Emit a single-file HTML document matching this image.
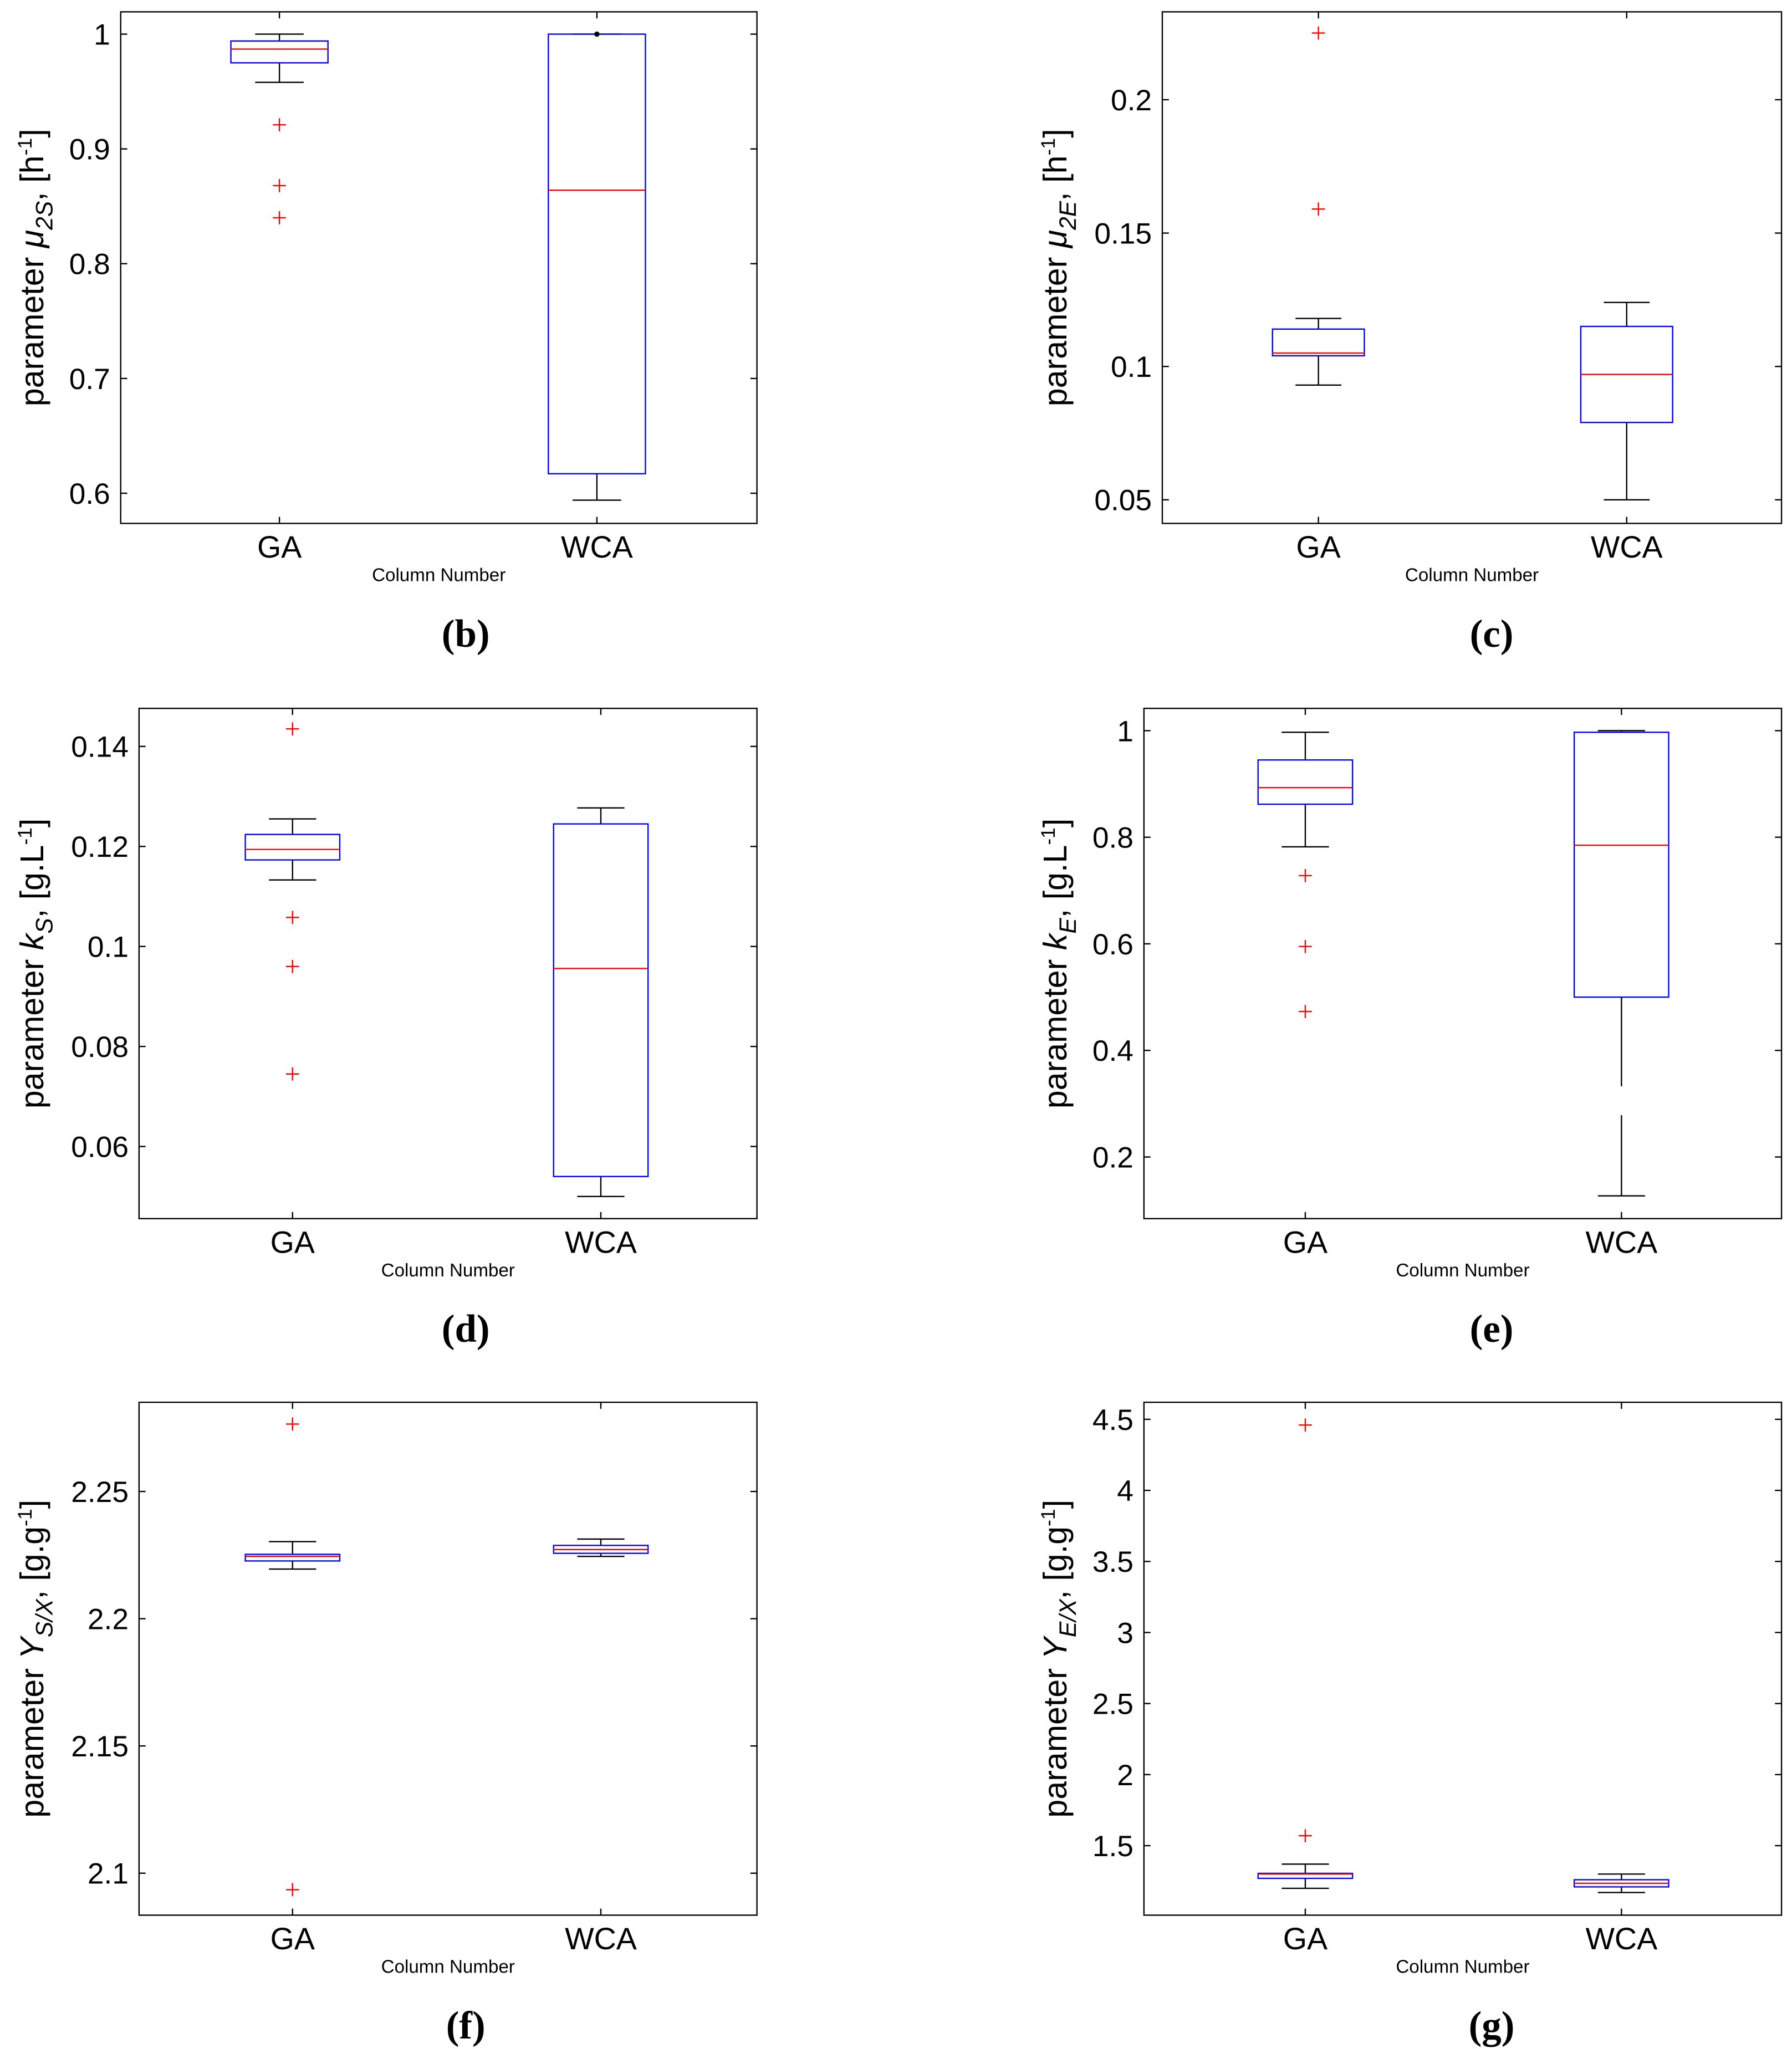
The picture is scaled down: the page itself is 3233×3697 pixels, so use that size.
<!DOCTYPE html>
<html><head><meta charset="utf-8"><style>
html,body{margin:0;padding:0;background:#fff}
svg{display:block}
text{font-family:"Liberation Sans",sans-serif}
.cap{font-family:"Liberation Serif",serif;font-weight:bold;font-size:30px}
</style></head><body>
<svg id="fig" width="3233" height="3697" viewBox="0 0 1366 1562" xmlns="http://www.w3.org/2000/svg"></svg>
<script>
const NS="http://www.w3.org/2000/svg";
const categories=["GA","WCA"];
// panel b
const bTicks=[0.6,0.7,0.8,0.9,1];
const bStats=[[0.958,0.975,0.987,0.994,1.0],[0.594,0.617,0.864,1.0,1.0]];
const bOut=[[0.921,0.868,0.84],[]];
// panel c
const cTicks=[0.05,0.1,0.15,0.2];
const cStats=[[0.093,0.104,0.105,0.114,0.118],[0.05,0.079,0.097,0.115,0.124]];
const cOut=[[0.225,0.159],[]];
// panel d
const dTicks=[0.06,0.08,0.1,0.12,0.14];
const dStats=[[0.1133,0.1173,0.1194,0.1224,0.1255],[0.05,0.054,0.0956,0.1245,0.1277]];
const dOut=[[0.1435,0.1058,0.096,0.0745],[]];
// panel e
const eTicks=[0.2,0.4,0.6,0.8,1];
const eStats=[[0.782,0.862,0.893,0.945,0.997],[0.127,0.5,0.785,0.997,1.0]];
const eOut=[[0.728,0.595,0.473],[]];
// panel f
const fTicks=[2.1,2.15,2.2,2.25];
const fStats=[[2.2195,2.2227,2.2245,2.2253,2.2303],[2.2245,2.2257,2.2272,2.2288,2.2313]];
const fOut=[[2.2765,2.0935],[]];
// panel g
const gTicks=[1.5,2,2.5,3,3.5,4,4.5];
const gTickLabels=["1.5","2","2.5","3","3.5","4","4.5"];
const gStats=[[1.2,1.27,1.3,1.305,1.37],[1.17,1.21,1.235,1.26,1.3]];
const gOut=[[4.46,1.57],[]];

const svg=document.getElementById('fig');
function mk(tag,attrs,parent){const e=document.createElementNS(NS,tag);for(const k in attrs)e.setAttribute(k,attrs[k]);(parent||svg).appendChild(e);return e;}

function panel(cfg){
  const g=mk('g',{});
  
  
  const {x0,x1,y0,y1}=cfg;
  const ys=v=>cfg.ry0+(v-cfg.v0)*(cfg.ry1-cfg.ry0)/(cfg.v1-cfg.v0);
  const xs=i=>cfg.cx[i];
  const frame=mk('rect',{x:x0,y:y0,width:x1-x0,height:y1-y0,fill:'none',stroke:'#000','stroke-width':1},g);
  
  
  cfg.ticks.forEach((t,i)=>{
    const y=ys(t);
    mk('line',{x1:x0,x2:x0+5,y1:y,y2:y,stroke:'#000'},g);
    mk('line',{x1:x1,x2:x1-5,y1:y,y2:y,stroke:'#000'},g);
    const tx=mk('text',{x:x0-8,y:y+8,'text-anchor':'end','font-size':22.5},g);
    tx.textContent=cfg.labels?cfg.labels[i]:String(t);
    
    
  });
  categories.forEach((c,i)=>{
    const x=xs(i);
    mk('line',{x1:x,x2:x,y1:y1,y2:y1-5,stroke:'#000'},g);
    mk('line',{x1:x,x2:x,y1:y0,y2:y0+5,stroke:'#000'},g);
    const t=mk('text',{x:x,y:y1+26,'text-anchor':'middle','font-size':23.5},g);
    t.textContent=c;
    
    
    const s=cfg.stats[i];const hw=cfg.hw;
    const bx=mk('g',{},g);
    
    
    const lw={x1:x,x2:x,y1:ys(s[1]),y2:ys(s[0]),stroke:'#000'};
    if(cfg.dash&&i===1) lw['stroke-dasharray']=cfg.dash;
    mk('line',lw,bx);
    mk('line',{x1:x,x2:x,y1:ys(s[3]),y2:ys(s[4]),stroke:'#000'},bx);
    mk('line',{x1:x-hw/2,x2:x+hw/2,y1:ys(s[0]),y2:ys(s[0]),stroke:'#000'},bx);
    mk('line',{x1:x-hw/2,x2:x+hw/2,y1:ys(s[4]),y2:ys(s[4]),stroke:'#000'},bx);
    mk('rect',{x:x-hw,y:ys(s[3]),width:hw*2,height:Math.max(1,ys(s[1])-ys(s[3])),fill:'none',stroke:'#00f'},bx);
    mk('line',{x1:x-hw,x2:x+hw,y1:ys(s[2]),y2:ys(s[2]),stroke:'#f00'},bx);
    cfg.out[i].forEach(v=>{
      const o=mk('path',{d:`M${x-5},${ys(v)}h10M${x},${ys(v)-5}v10`,stroke:'#f00','stroke-width':1},bx);
      
      
    });
  });
  const cn=mk('text',{x:(x0+x1)/2,y:y1+44,'text-anchor':'middle','font-size':14},g);
  cn.textContent='Column Number';
  
  
  const yt=mk('text',{transform:`translate(${cfg.ylx},${(y0+y1)/2}) rotate(-90)`,'text-anchor':'middle','font-size':25},g);
  yt.innerHTML=cfg.ylab;
  
  
  const cap=mk('text',{x:cfg.capx,y:y1+94,'text-anchor':'middle',class:'cap'},g);
  cap.textContent='('+cfg.id+')';
  
  
  return g;
}
const sub=(s)=>`<tspan dy="7" font-size="18" font-style="italic">${s}</tspan><tspan dy="-7">`;
panel({id:'b',x0:92,x1:577,y0:9,y1:399,v0:1,v1:0.6,ry0:26,ry1:376,cx:[213,455],hw:37,ticks:bTicks,stats:bStats,out:bOut,ylx:33,capx:355,
 ylab:`parameter  <tspan font-style="italic">μ</tspan>${sub('2S')}, [h</tspan><tspan dy="-9" font-size="15">-1</tspan><tspan dy="9">]</tspan>`});
panel({id:'c',x0:886,x1:1358,y0:9,y1:399,v0:0.2,v1:0.05,ry0:76,ry1:381,cx:[1005,1240],hw:35,ticks:cTicks,stats:cStats,out:cOut,ylx:813,capx:1137,
 ylab:`parameter  <tspan font-style="italic">μ</tspan>${sub('2E')}, [h</tspan><tspan dy="-9" font-size="15">-1</tspan><tspan dy="9">]</tspan>`});
panel({id:'d',x0:106,x1:577,y0:540,y1:929,v0:0.14,v1:0.06,ry0:569,ry1:874,cx:[223,458],hw:36,ticks:dTicks,stats:dStats,out:dOut,ylx:33,capx:355,
 ylab:`parameter  <tspan font-style="italic">k</tspan>${sub('S')}, [g.L</tspan><tspan dy="-9" font-size="15">-1</tspan><tspan dy="9">]</tspan>`});
panel({id:'e',x0:872,x1:1358,y0:540,y1:929,v0:1,v1:0.2,ry0:557,ry1:882,cx:[995,1236],hw:36,ticks:eTicks,stats:eStats,out:eOut,ylx:813,capx:1137,dash:'68,22,300',
 ylab:`parameter  <tspan font-style="italic">k</tspan>${sub('E')}, [g.L</tspan><tspan dy="-9" font-size="15">-1</tspan><tspan dy="9">]</tspan>`});
panel({id:'f',x0:106,x1:577,y0:1069,y1:1460,v0:2.25,v1:2.1,ry0:1137,ry1:1428,cx:[223,458],hw:36,ticks:fTicks,stats:fStats,out:fOut,ylx:33,capx:355,
 ylab:`parameter  <tspan font-style="italic">Y</tspan>${sub('S/X')}, [g.g</tspan><tspan dy="-9" font-size="15">-1</tspan><tspan dy="9">]</tspan>`});
panel({id:'g',x0:872,x1:1358,y0:1069,y1:1460,v0:4.5,v1:1.5,ry0:1082,ry1:1407,cx:[995,1236],hw:36,ticks:gTicks,labels:gTickLabels,stats:gStats,out:gOut,ylx:813,capx:1137,
 ylab:`parameter  <tspan font-style="italic">Y</tspan>${sub('E/X')}, [g.g</tspan><tspan dy="-9" font-size="15">-1</tspan><tspan dy="9">]</tspan>`});
const dot=mk('circle',{cx:455,cy:26,r:2,fill:'#000'});


</script>
</body></html>
